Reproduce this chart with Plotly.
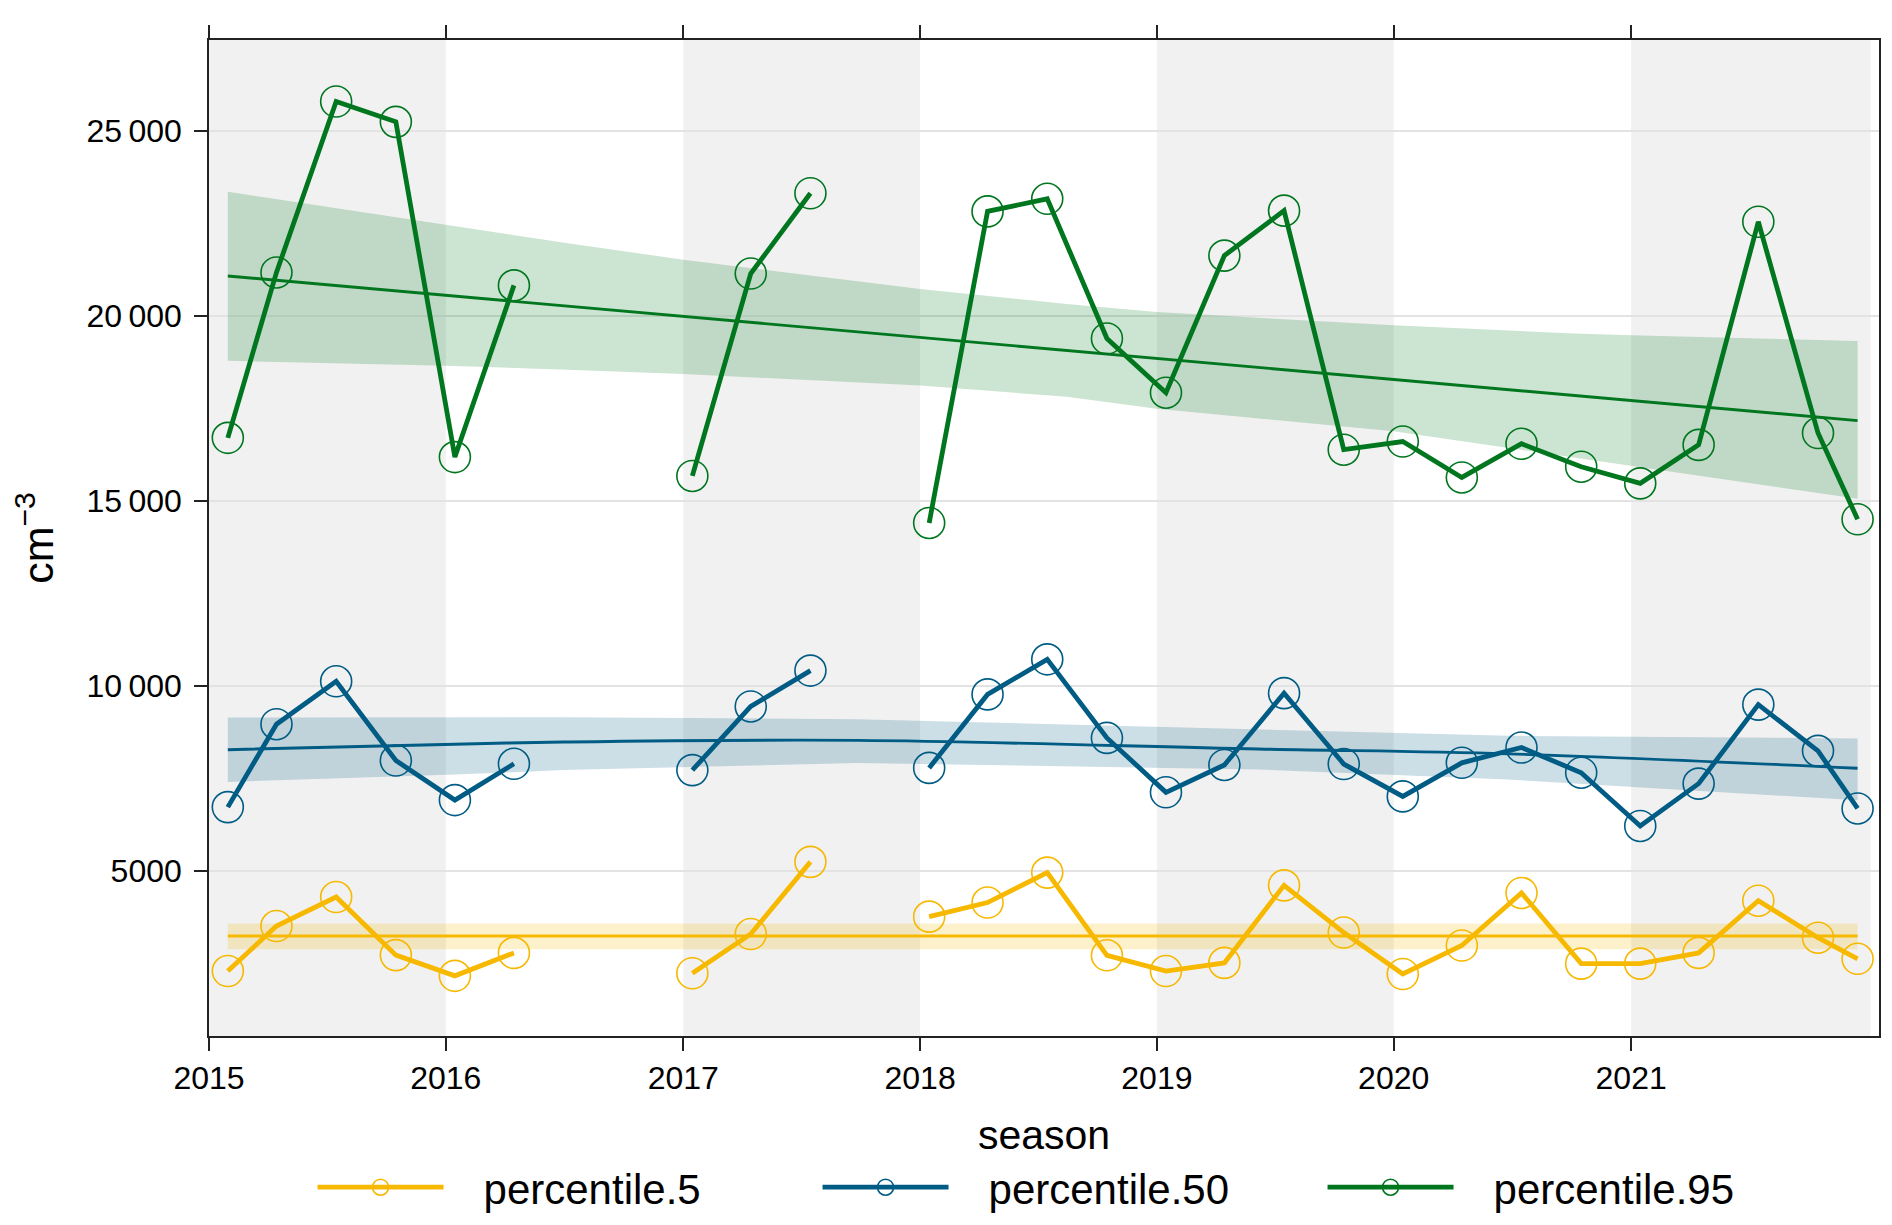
import plotly.graph_objects as go

# ---------------- data ----------------
season_dates = ["2015-01-30", "2015-04-15", "2015-07-16", "2015-10-16",
                "2016-01-15", "2016-04-15", "2016-07-16", "2016-10-16",
                "2017-01-15", "2017-04-15", "2017-07-16", "2017-10-16",
                "2018-01-15", "2018-04-15", "2018-07-16", "2018-10-16",
                "2019-01-15", "2019-04-15", "2019-07-16", "2019-10-16",
                "2020-01-15", "2020-04-15", "2020-07-16", "2020-10-16",
                "2021-01-15", "2021-04-15", "2021-07-16", "2021-10-16",
                "2021-12-16"]

p5 = [2290, 3505, 4290, 2720, 2160, 2780, None, None,
      2230, 3290, 5240, None, 3760, 4140, 4950, 2715,
      2290, 2510, 4605, 3330, 2210, 2980, 4400, 2490,
      2490, 2780, 4190, 3190, 2620]

p50 = [6720, 8960, 10120, 7980, 6910, 7890, None, None,
       7720, 9440, 10410, None, 7780, 9766, 10714, 8590,
       7120, 7860, 9800, 7885, 7010, 7917, 8330, 7650,
       6210, 7355, 9490, 8240, 6683]

p95 = [16700, 21170, 25790, 25240, 16180, 20820, None, None,
       15670, 21140, 23310, None, 14400, 22820, 23160, 19385,
       17920, 21625, 22840, 16380, 16600, 15630, 16540, 15920,
       15470, 16510, 22540, 16830, 14500]

# trend lines and their confidence bands
trend5_dates = ["2015-01-30", "2021-12-16"]
trend5_fit = [3237, 3237]
trend5_upper = [3575, 3575]
trend5_lower = [2877, 2877]

trend50_dates = ["2015-01-30", "2016-01-15", "2016-07-01", "2017-09-27",
                 "2019-06-06", "2020-06-25", "2021-12-16"]
trend50_fit = [8272, 8420, 8480, 8524, 8290, 8160, 7772]
trend50_upper = [9141, 9160, 9150, 9095, 8827, 8648, 8577]
trend50_lower = [7400, 7600, 7720, 7915, 7735, 7467, 6903]

trend95_dates = ["2015-01-30", "2016-01-01", "2016-07-07", "2017-01-01",
                 "2018-01-01", "2018-08-15", "2019-01-01", "2020-01-01",
                 "2020-09-24", "2021-01-01", "2021-12-16"]
trend95_fit_dates = ["2015-01-30", "2021-12-16"]
trend95_fit = [21075, 17165]
trend95_upper = [23350, 22450, 21960, 21513, 20725, 20315, 20099, 19742,
                 19528, 19470, 19320]
trend95_lower = [18780, 18650, 18543, 18427, 18113, 17810, 17488, 16878,
                 16190, 15940, 15053]

# alternating year shading
band_starts = ["2015-01-01", "2017-01-01", "2019-01-01", "2021-01-01"]
band_ends = ["2016-01-01", "2018-01-01", "2020-01-01", "2022-01-05"]

y_tickvals = [5000, 10000, 15000, 20000, 25000]
y_ticktext = ["5000", "10\u2009000", "15\u2009000", "20\u2009000", "25\u2009000"]
x_tickvals = ["2015-01-01", "2016-01-01", "2017-01-01", "2018-01-01",
              "2019-01-01", "2020-01-01", "2021-01-01"]
x_ticktext = ["2015", "2016", "2017", "2018", "2019", "2020", "2021"]

series_names = ["percentile.5", "percentile.50", "percentile.95"]
colors = ["#F7B800", "#005C84", "#00761F"]
band_colors = ["rgba(247,184,0,0.2)", "rgba(0,92,132,0.2)", "rgba(0,118,31,0.2)"]

FONT = "Liberation Sans, Arial, Helvetica, sans-serif"
LEGEND_PAD = "\u00a0\u00a0\u00a0"

fig = go.Figure()

# confidence bands
bands = [
    (trend5_dates, trend5_upper, trend5_lower),
    (trend50_dates, trend50_upper, trend50_lower),
    (trend95_dates, trend95_upper, trend95_lower),
]
for (d, up, lo), bc in zip(bands, band_colors):
    fig.add_trace(go.Scatter(
        x=list(d) + list(d)[::-1],
        y=list(up) + list(lo)[::-1],
        fill="toself", fillcolor=bc, mode="lines",
        line=dict(width=0, color=bc), hoverinfo="skip", showlegend=False))

# trend lines
trends = [(trend5_dates, trend5_fit), (trend50_dates, trend50_fit),
          (trend95_fit_dates, trend95_fit)]
for (d, f), c in zip(trends, colors):
    fig.add_trace(go.Scatter(
        x=d, y=f, mode="lines", line=dict(color=c, width=2.9, shape="spline"),
        hoverinfo="skip", showlegend=False))

# data series
for name, vals, c in zip(series_names, [p5, p50, p95], colors):
    fig.add_trace(go.Scatter(
        x=season_dates, y=vals, name=LEGEND_PAD + name, mode="lines+markers",
        line=dict(color=c, width=4.8),
        marker=dict(symbol="circle-open", size=31, color=c,
                    line=dict(width=1.6, color=c)),
        connectgaps=False))

shapes = []
for s, e in zip(band_starts, band_ends):
    shapes.append(dict(type="rect", xref="x", yref="paper", x0=s, x1=e,
                       y0=0, y1=1, fillcolor="#F1F1F1", line=dict(width=0),
                       layer="below"))

fig.update_layout(
    width=1892, height=1225,
    margin=dict(l=201, r=21, t=32, b=190),
    paper_bgcolor="white", plot_bgcolor="white",
    font=dict(family=FONT, size=32, color="black"),
    shapes=shapes,
    showlegend=True,
    legend=dict(orientation="h", x=0.062, xanchor="left", y=-0.152,
                yanchor="middle", font=dict(size=42, family=FONT),
                itemwidth=126, entrywidth=364, entrywidthmode="pixels",
                tracegroupgap=0, bgcolor="rgba(0,0,0,0)"),
)

fig.update_xaxes(
    type="date", range=["2015-01-01", "2022-01-18"],
    tickvals=x_tickvals, ticktext=x_ticktext,
    ticks="outside", ticklen=13, tickwidth=1.5, tickcolor="#222",
    showline=True, linecolor="#222", linewidth=1.6, mirror="ticks",
    showgrid=False, zeroline=False,
    tickfont=dict(size=32, family=FONT),
    title=dict(text="season", font=dict(size=41, family=FONT), standoff=25),
)
fig.update_yaxes(
    range=[534, 27452],
    tickvals=y_tickvals, ticktext=y_ticktext,
    ticks="outside", ticklen=13, tickwidth=1.5, tickcolor="#222",
    ticklabelstandoff=6,
    showline=True, linecolor="#222", linewidth=1.6, mirror=True,
    showgrid=True, gridcolor="#E3E3E3", gridwidth=1.7, zeroline=False,
    tickfont=dict(size=32, family=FONT),
    title=dict(text="cm<sup>−3</sup>", font=dict(size=43, family=FONT), standoff=20),
)

fig.write_html("out.html")
